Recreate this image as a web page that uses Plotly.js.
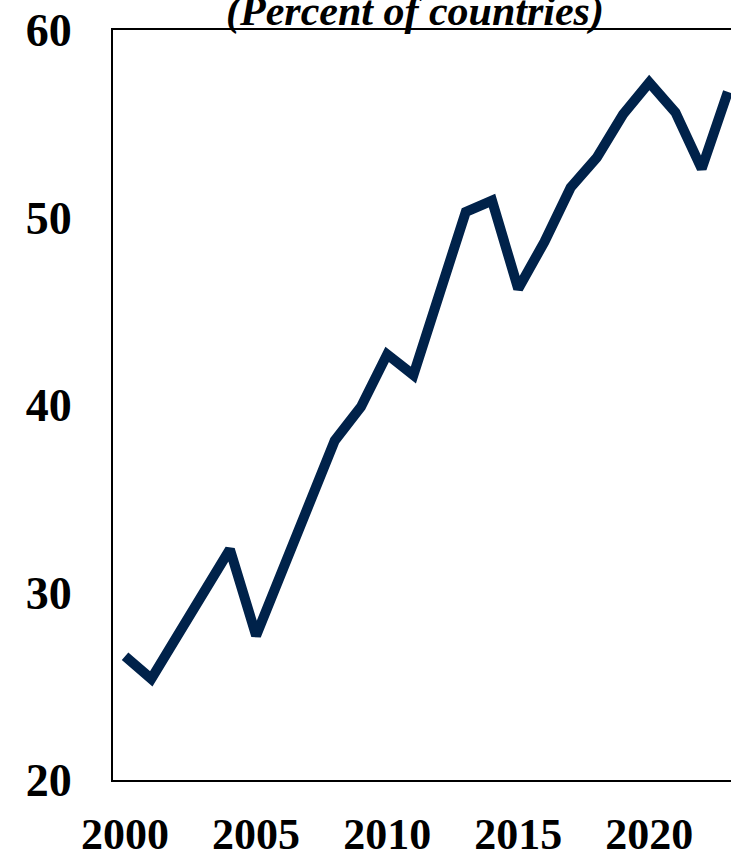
<!DOCTYPE html>
<html><head><meta charset="utf-8">
<script src="https://cdn.plot.ly/plotly-3.0.1.min.js"></script>
<style>html,body{margin:0;padding:0;overflow:hidden;background:#fff;width:731px;height:855px}</style>
</head><body><div id="chart" style="width:745px;height:855px"></div>
<script>
const years = [2000,2001,2002,2003,2004,2005,2006,2007,2008,2009,2010,2011,2012,2013,2014,2015,2016,2017,2018,2019,2020,2021,2022,2023];
const shares = [26.6,25.4,27.7,30.0,32.3,27.7,31.2,34.7,38.1,39.9,42.7,41.6,46.0,50.3,50.9,46.2,48.7,51.6,53.2,55.5,57.2,55.6,52.6,56.7];
const xTicks = [2000,2005,2010,2015,2020];
const yTicks = [20,30,40,50,60];
const titleText = "(Percent of countries)";

const font = {family: "Liberation Serif, Times New Roman, serif", color: "#000"};
Plotly.newPlot("chart", [{
  x: years, y: shares, type: "scatter", mode: "lines",
  line: {color: "#00224a", width: 10, join: "round"}, hoverinfo: "skip"
}], {
  width: 745, height: 855,
  margin: {l: 113, r: 4, t: 30, b: 75},
  paper_bgcolor: "#fff", plot_bgcolor: "#fff",
  showlegend: false,
  annotations: [{text: "<b><i>" + titleText + "</i></b>", xref: "paper", yref: "paper",
    x: (415 - 113) / 628, y: 1, xanchor: "center", yanchor: "bottom", yshift: -7, showarrow: false,
    font: Object.assign({}, font, {size: 42})}],
  xaxis: {range: [1999.54, 2023.5], tickvals: xTicks, ticktext: xTicks.map(String),
          showgrid: false, zeroline: false, showline: true, linecolor: "#000", linewidth: 2, mirror: true,
          ticks: "", ticklabelstandoff: 14, tickfont: Object.assign({}, font, {size: 44, weight: "bold"})},
  yaxis: {range: [20, 60], tickvals: yTicks, ticktext: yTicks.map(String),
          showgrid: false, zeroline: false, showline: true, linecolor: "#000", linewidth: 2, mirror: true,
          ticks: "", ticklabelstandoff: 30, tickfont: Object.assign({}, font, {size: 46, weight: "bold"})}
}, {staticPlot: true, displayModeBar: false});
</script></body></html>
